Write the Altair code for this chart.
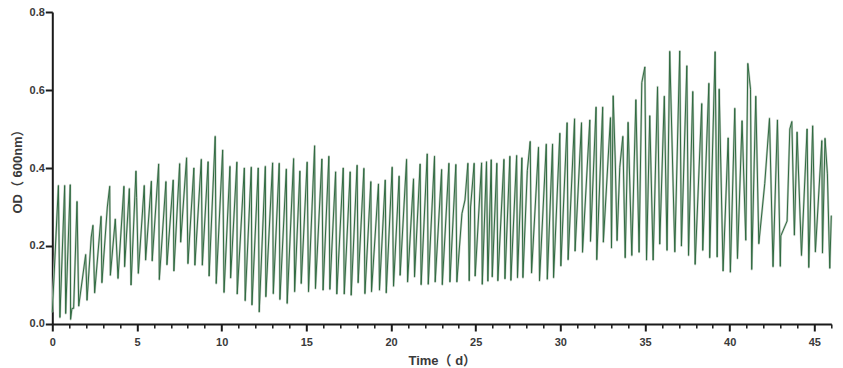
import altair as alt
import pandas as pd

time_d = [
 0.00,0.36,0.45,0.73,0.79,1.06,1.08,1.16,1.26,1.46,1.56,1.97,2.05,2.30,2.40,2.50,2.88,2.93,3.25,3.39,3.43,3.72,3.88,4.23,4.27,4.55,4.65,4.94,4.98,5.08,
 5.43,5.51,5.85,5.90,6.28,6.32,6.71,6.77,7.14,7.18,7.52,7.58,7.93,8.01,8.36,8.42,8.80,8.86,9.20,9.26,9.62,9.68,10.06,10.14,10.49,10.53,10.90,10.92,
 11.34,11.39,11.75,11.79,12.16,12.22,12.58,12.61,13.01,13.05,13.40,13.44,13.82,13.87,14.25,14.31,14.62,14.70,15.05,15.13,15.49,15.54,15.92,15.99,
 16.33,16.39,16.73,16.80,17.18,17.24,17.59,17.65,18.00,18.06,18.40,18.46,18.81,18.85,19.26,19.32,19.66,19.72,20.07,20.15,20.48,20.54,20.92,20.98,
 21.33,21.39,21.72,21.78,22.14,22.20,22.57,22.61,22.99,23.03,23.42,23.48,23.83,23.89,24.19,24.37,24.54,24.62,24.70,24.91,24.97,25.35,25.39,25.64,25.72,
 25.92,25.98,26.25,26.31,26.67,26.73,27.02,27.08,27.42,27.47,27.73,27.79,28.05,28.22,28.30,28.71,28.77,29.17,29.23,29.54,29.60,29.97,30.03,30.40,30.46,
 30.84,30.87,31.25,31.31,31.74,31.78,32.11,32.15,32.50,32.54,32.96,33.02,33.12,33.24,33.35,33.51,33.69,33.83,34.00,34.22,34.46,34.65,34.81,34.99,35.09,
 35.28,35.48,35.74,35.87,36.14,36.30,36.46,36.76,37.05,37.15,37.47,37.57,37.82,37.96,38.35,38.41,38.77,38.82,39.14,39.26,39.38,39.61,39.91,40.04,40.30,
 40.46,40.73,40.95,41.07,41.23,41.30,41.54,41.72,42.07,42.35,42.56,42.82,42.99,43.02,43.39,43.55,43.67,43.82,43.98,44.24,44.57,44.67,44.90,45.06,45.44,
 45.48,45.63,45.77,45.91,46.00,
]
od_600 = [
 .030,.355,.017,.355,.027,.357,.012,.040,.040,.314,.046,.178,.061,.223,.253,.080,.276,.106,.300,.353,.125,.269,.117,.353,.147,.347,.100,.392,.324,.130,
 .355,.164,.366,.162,.410,.114,.365,.152,.369,.136,.411,.210,.426,.155,.400,.151,.422,.151,.416,.123,.481,.104,.446,.081,.404,.118,.415,.077,
 .400,.060,.402,.049,.400,.031,.404,.070,.413,.078,.412,.063,.397,.053,.424,.083,.392,.104,.415,.083,.457,.091,.423,.087,
 .430,.089,.390,.077,.400,.077,.390,.074,.407,.106,.399,.078,.365,.083,.359,.087,.369,.080,.402,.097,.379,.125,.422,.108,
 .372,.121,.410,.101,.436,.102,.430,.108,.396,.101,.412,.108,.409,.108,.283,.318,.412,.111,.300,.412,.123,.413,.102,.416,.110,
 .421,.121,.412,.111,.422,.116,.430,.112,.432,.119,.426,.119,.393,.468,.131,.453,.111,.461,.115,.461,.119,.489,.149,.516,.165,
 .526,.187,.516,.184,.523,.212,.556,.165,.556,.210,.529,.195,.585,.423,.214,.402,.481,.170,.517,.176,.575,.184,.619,.659,.164,
 .534,.164,.608,.205,.584,.189,.699,.185,.700,.200,.662,.176,.596,.153,.565,.189,.617,.170,.698,.172,.602,.136,.477,.133,.553,
 .168,.521,.215,.668,.602,.140,.584,.206,.360,.527,.147,.523,.148,.226,.264,.500,.519,.228,.492,.176,.500,.145,.508,.185,.470,
 .182,.476,.385,.143,.278,
]
y_ticks = [0, 0.2, 0.4, 0.6, 0.8]
x_ticks = list(range(0, 47))

df = pd.DataFrame({"t": time_d, "od": od_600})
FONT = "Liberation Sans, Noto Sans CJK SC"

x_axis = alt.Axis(
    values=x_ticks, title="Time（ d）", format="d",
    labelExpr="datum.value % 5 === 0 ? datum.label : ''",
    labelOverlap=False, labelFlush=False, labelFont=FONT, labelFontWeight="bold", labelFontSize=11, labelColor="#3a3a3a",
    labelPadding=6, labelAngle=0, titleFont=FONT, titleFontWeight="bold", titleFontSize=13, titleColor="#3a3a3a", titlePadding=7,
    grid=False, domainColor="#1a1a1a", domainWidth=2, tickColor="#1a1a1a",
    tickSize=alt.condition("datum.value % 5 === 0", alt.value(7), alt.value(4)),
    tickWidth=alt.condition("datum.value % 5 === 0", alt.value(2), alt.value(1.5)),
)
y_axis = alt.Axis(
    values=y_ticks, title="OD（ 600nm）", format=".1f",
    labelFont=FONT, labelFontWeight="bold", labelFontSize=11, labelColor="#3a3a3a", labelPadding=1,
    titleFont=FONT, titleFontWeight="bold", titleFontSize=13, titleColor="#3a3a3a", titlePadding=5,
    grid=False, domainColor="#1a1a1a", domainWidth=2, tickColor="#1a1a1a", tickSize=7, tickWidth=2,
)
x_enc = alt.X("t:Q", scale=alt.Scale(domain=[0, 46], nice=False), axis=x_axis)
y_enc = alt.Y("od:Q", scale=alt.Scale(domain=[0, 0.8], nice=False), axis=y_axis)

halo = alt.Chart(df).mark_line(color="#c2cdc3", strokeWidth=2.2, strokeJoin="round").encode(
    x=x_enc, y=y_enc, order=alt.Order("t:Q"))
core = alt.Chart(df).mark_line(color="#2f6a40", strokeWidth=1.0, strokeJoin="round").encode(
    x=x_enc, y=y_enc, order=alt.Order("t:Q"))

chart = (halo + core).properties(
    width=779, height=312,
    autosize=alt.AutoSizeParams(type="none"),
    padding={"left": 44.3, "top": 4, "right": 3, "bottom": 44},
).configure_view(stroke=None)

chart.save("out.html", embed_options={"renderer": "svg", "actions": False})
